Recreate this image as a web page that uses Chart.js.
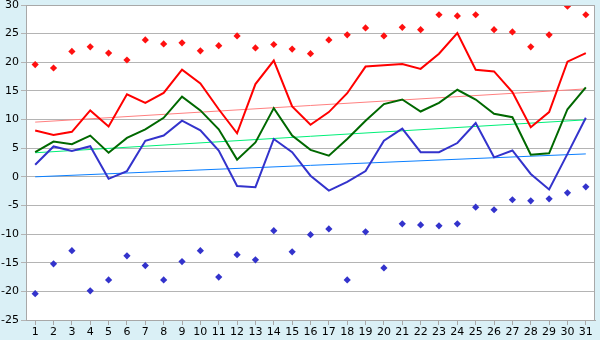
<!DOCTYPE html>
<html>
<head>
<meta charset="utf-8">
<script src="https://cdn.jsdelivr.net/npm/chart.js@4/dist/chart.umd.min.js"></script>
<style>
  html, body { margin: 0; padding: 0; background: #daf0f6; }
  canvas { display: block; }
</style>
</head>
<body>
<canvas id="chart" width="600" height="340"></canvas>
<script>
/* =========================
   DATA
========================= */
const days = ["1","2","3","4","5","6","7","8","9","10","11","12","13","14","15","16",
  "17","18","19","20","21","22","23","24","25","26","27","28","29","30","31"];

const yTicks = [-25, -20, -15, -10, -5, 0, 5, 10, 15, 20, 25, 30];

// highest values (red diamonds)
const maxAbs = [19.6, 19.0, 21.9, 22.7, 21.6, 20.4, 23.9, 23.2, 23.4, 22.0, 22.9, 24.6, 22.5, 23.1, 22.3, 21.5,
  23.9, 24.8, 26.0, 24.6, 26.1, 25.7, 28.3, 28.1, 28.3, 25.7, 25.3, 22.7, 24.8, 29.8, 28.3];

// red line
const maxMean = [8.1, 7.3, 7.85, 11.6, 8.8, 14.4, 12.9, 14.65, 18.7, 16.3, 11.8, 7.6, 16.2, 20.3, 12.3, 9.1,
  11.3, 14.6, 19.25, 19.5, 19.7, 18.85, 21.5, 25.1, 18.7, 18.4, 14.8, 8.65, 11.3, 20.1, 21.6];

// green line
const mean = [4.3, 6.15, 5.7, 7.2, 4.2, 6.8, 8.3, 10.3, 14.0, 11.6, 8.3, 3.0, 6.0, 12.0, 7.2, 4.7,
  3.7, 6.6, 9.8, 12.7, 13.5, 11.4, 12.9, 15.2, 13.5, 11.0, 10.4, 3.85, 4.1, 11.8, 15.6];

// blue line
const minMean = [2.1, 5.3, 4.5, 5.35, -0.35, 1.0, 6.3, 7.2, 9.8, 8.1, 4.6, -1.6, -1.8, 6.6, 4.3, 0.2,
  -2.4, -0.9, 1.0, 6.3, 8.4, 4.3, 4.3, 5.9, 9.4, 3.4, 4.6, 0.5, -2.2, 4.0, 10.3];

// lowest values (blue diamonds)
const minAbs = [-20.4, -15.2, -12.9, -19.9, -18.0, -13.8, -15.5, -18.0, -14.8, -12.9, -17.5, -13.6, -14.5, -9.4, -13.1, -10.1,
  -9.1, -18.0, -9.6, -15.9, -8.2, -8.4, -8.55, -8.2, -5.3, -5.75, -4.0, -4.2, -3.85, -2.8, -1.75];

// trend lines: start (day 1) and end (day 31)
const trendMax = [9.55, 15.35];
const trendMean = [4.2, 9.95];
const trendMin = [0.0, 4.0];

/* =========================
   HELPERS
========================= */
function endpoints(pair) {
  return days.map((d, i) => i === 0 ? pair[0] : (i === days.length - 1 ? pair[1] : null));
}

function lineSet(data, color, width, order) {
  return {
    data: data,
    borderColor: color,
    borderWidth: width,
    pointRadius: 0,
    tension: 0,
    spanGaps: true,
    fill: false,
    order: order
  };
}

function pointSet(data, color) {
  return {
    data: data,
    showLine: false,
    pointStyle: "rectRot",
    pointRadius: 3.6,
    pointBackgroundColor: color,
    pointBorderColor: color,
    pointBorderWidth: 0,
    order: 0
  };
}

/* =========================
   BACKGROUND + FRAME
========================= */
const framePlugin = {
  id: "frame",
  beforeDraw(chart) {
    const { ctx, chartArea: a } = chart;
    ctx.save();
    ctx.fillStyle = "#daf0f6";
    ctx.fillRect(0, 0, chart.width, chart.height);
    ctx.fillStyle = "#ffffff";
    ctx.fillRect(a.left, a.top, a.right - a.left, a.bottom - a.top);
    ctx.restore();
  },
  afterDatasetsDraw(chart) {
    const { ctx, chartArea: a } = chart;
    ctx.save();
    ctx.strokeStyle = "#a8a8a8";
    ctx.lineWidth = 1;
    ctx.beginPath();
    ctx.moveTo(a.left, a.top + 0.5);
    ctx.lineTo(a.right - 0.5, a.top + 0.5);
    ctx.lineTo(a.right - 0.5, a.bottom);
    ctx.stroke();
    ctx.restore();
  }
};

/* =========================
   CHART
========================= */
new Chart(document.getElementById("chart"), {
  type: "line",
  data: {
    labels: days,
    datasets: [
      pointSet(maxAbs, "#ff1010"),
      pointSet(minAbs, "#3333cc"),
      lineSet(maxMean, "#ff0000", 2, 1),
      lineSet(mean, "#006800", 2, 1),
      lineSet(minMean, "#3333cc", 2, 1),
      lineSet(endpoints(trendMax), "#ff8080", 1, 2),
      lineSet(endpoints(trendMean), "#00f078", 1, 2),
      lineSet(endpoints(trendMin), "#0a7fff", 1, 2)
    ]
  },
  options: {
    responsive: false,
    animation: false,
    layout: { padding: { top: 0, right: 5, left: 0, bottom: 0 } },
    plugins: {
      legend: { display: false },
      tooltip: { enabled: false }
    },
    scales: {
      x: {
        offset: true,
        grid: { drawOnChartArea: false, tickLength: 5, color: "#a8a8a8" },
        border: { color: "#a8a8a8" },
        ticks: {
          color: "#000",
          font: { family: "DejaVu Sans", size: 11 },
          padding: 1,
          maxRotation: 0,
          autoSkip: false
        },
        afterFit(scale) { scale.height = 20; }
      },
      y: {
        min: yTicks[0],
        max: yTicks[yTicks.length - 1],
        afterBuildTicks(scale) { scale.ticks = yTicks.map(v => ({ value: v })); },
        grid: { color: "#b4b4b4", tickLength: 5 },
        border: { color: "#a8a8a8" },
        ticks: {
          color: "#000",
          font: { family: "DejaVu Sans", size: 11 },
          padding: 2
        },
        afterFit(scale) {
          scale.width = 26;
          scale.paddingTop = 5;
          scale.paddingBottom = 0;
        }
      }
    }
  },
  plugins: [framePlugin]
});
</script>
</body>
</html>
